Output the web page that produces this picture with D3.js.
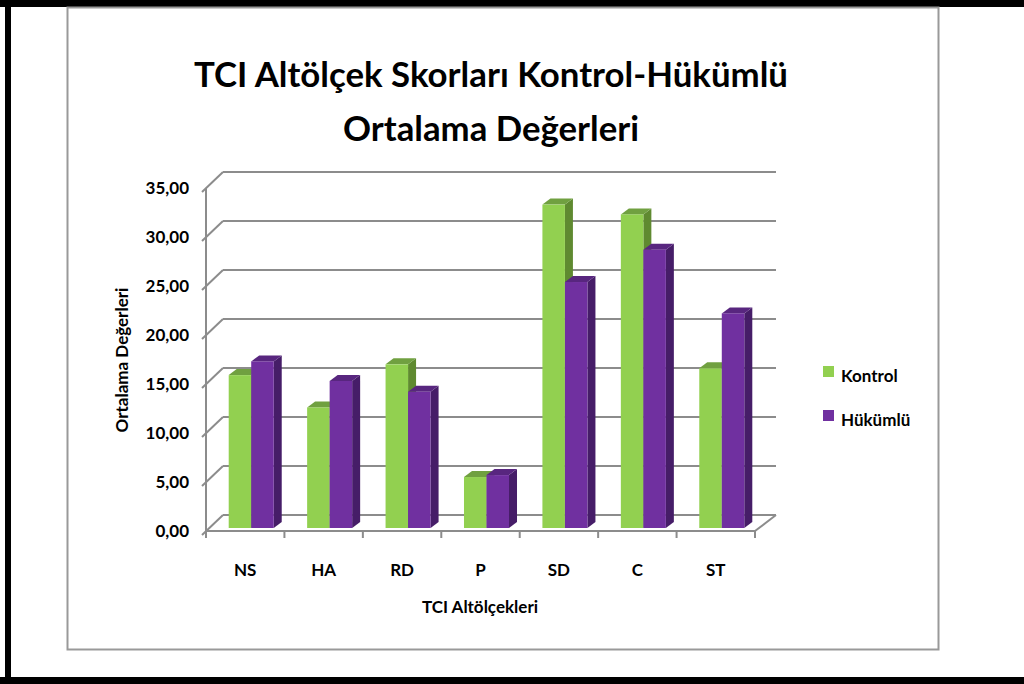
<!DOCTYPE html>
<html>
<head>
<meta charset="utf-8">
<title>TCI Altölçek Skorları</title>
<style>
  body { margin: 0; background: #fff; }
  text { font-family: Lato, "Open Sans", sans-serif; font-weight: bold; fill: #000; }
</style>
</head>
<body>
<svg width="1024" height="684"></svg>
<script src="https://d3js.org/d3.v7.min.js"></script>
<script>
// data
var categories = ["NS", "HA", "RD", "P", "SD", "C", "ST"];
var seriesNames = ["Kontrol", "Hükümlü"];
var kontrol = [15.6, 12.3, 16.7, 5.2, 33.0, 32.0, 16.3];
var hukumlu = [17.0, 15.0, 13.9, 5.4, 25.1, 28.4, 21.9];
var yTicks = [0, 5, 10, 15, 20, 25, 30, 35];

var svg = d3.select("svg");

// frames
svg.append("rect").attr("x", 0).attr("y", 0).attr("width", 1024).attr("height", 684).attr("fill", "#fff");
svg.append("rect").attr("x", 0).attr("y", 0).attr("width", 1024).attr("height", 7).attr("fill", "#000");
svg.append("rect").attr("x", 5).attr("y", 0).attr("width", 6).attr("height", 684).attr("fill", "#000");
svg.append("rect").attr("x", 0).attr("y", 677).attr("width", 1024).attr("height", 7).attr("fill", "#000");
svg.append("rect").attr("x", 67.5).attr("y", 7.5).attr("width", 871).attr("height", 642)
    .attr("fill", "none").attr("stroke", "#999").attr("stroke-width", 2);

// scales (front plane)
var x0 = d3.scaleBand().domain(categories).range([206, 755]).paddingInner(0.426).paddingOuter(0.213);
var x1 = d3.scaleBand().domain(seriesNames).range([0, x0.bandwidth()]);
var y = d3.scaleLinear().domain([0, 35]).range([531, 188]);

var wallDx = 17, wallDy = -16;   // depth of the box
var barDx = 6, barDy = -3;       // bar front plane offset
var topDx = 8, topDy = -6;       // bar depth
var gridColor = "#8c8c8c";

var grid = svg.append("g").attr("stroke", gridColor).attr("stroke-width", 2).attr("fill", "none");

// back wall gridlines
grid.selectAll(".gl").data(yTicks).enter().append("line")
    .attr("x1", 206 + wallDx).attr("x2", 755 + wallDx + 4)
    .attr("y1", function(d) { return y(d) + wallDy; })
    .attr("y2", function(d) { return y(d) + wallDy; });

// side wall diagonals
grid.selectAll(".dg").data(yTicks).enter().append("line")
    .attr("x1", 202).attr("x2", 206 + wallDx)
    .attr("y1", function(d) { return y(d) + 4; })
    .attr("y2", function(d) { return y(d) + wallDy; });

// vertical axis
grid.append("line").attr("x1", 206).attr("x2", 206).attr("y1", y(35)).attr("y2", y(0));

// floor front and right edges
grid.append("line").attr("x1", 206).attr("x2", 755).attr("y1", y(0)).attr("y2", y(0));
grid.append("line").attr("x1", 755).attr("x2", 755 + wallDx + 4).attr("y1", y(0)).attr("y2", y(0) + wallDy);

// category ticks
var bounds = categories.map(function(c) { return x0(c) - x0.step() * 0.213; });
bounds.push(755);
grid.selectAll(".ct").data(bounds).enter().append("line")
    .attr("x1", function(d) { return d; }).attr("x2", function(d) { return d; })
    .attr("y1", y(0)).attr("y2", y(0) + 7);

// bars
var colors = {
  "Kontrol": { front: "#92d050", side: "#5f8a30", top: "#70a040" },
  "Hükümlü": { front: "#7030a0", side: "#461d68", top: "#58267f" }
};
var rows = [];
categories.forEach(function(c, i) {
  rows.push({ cat: c, s: "Kontrol", v: kontrol[i] });
  rows.push({ cat: c, s: "Hükümlü", v: hukumlu[i] });
});

var bars = svg.append("g").selectAll("g").data(rows).enter().append("g");
bars.each(function(d) {
  var g = d3.select(this);
  var xl = x0(d.cat) + x1(d.s) + barDx;
  var xr = xl + x1.bandwidth();
  var yt = y(d.v) + barDy;
  var yb = y(0) + barDy;
  var c = colors[d.s];
  g.append("path")
      .attr("d", "M" + xr + "," + yb + "L" + (xr + topDx) + "," + (yb + topDy) + "L" + (xr + topDx) + "," + (yt + topDy) + "L" + xr + "," + yt + "Z")
      .attr("fill", c.side);
  g.append("path")
      .attr("d", "M" + xl + "," + yt + "L" + (xl + topDx) + "," + (yt + topDy) + "L" + (xr + topDx) + "," + (yt + topDy) + "L" + xr + "," + yt + "Z")
      .attr("fill", c.top);
  g.append("rect").attr("x", xl).attr("y", yt).attr("width", xr - xl).attr("height", yb - yt).attr("fill", c.front);
});

// y tick labels
svg.append("g").selectAll("text").data(yTicks).enter().append("text")
    .attr("x", 189).attr("y", function(d) { return y(d) + 6; })
    .attr("text-anchor", "end").attr("font-size", 17)
    .text(function(d) { return d3.format(".2f")(d).replace(".", ","); });

// x labels
svg.append("g").selectAll("text").data(categories).enter().append("text")
    .attr("x", function(d) { return x0(d) + x0.bandwidth() / 2; })
    .attr("y", 576).attr("text-anchor", "middle").attr("font-size", 17)
    .text(function(d) { return d; });

// axis titles
svg.append("text").attr("x", 480).attr("y", 613).attr("text-anchor", "middle").attr("font-size", 17)
    .text("TCI Altölçekleri");
svg.append("text").attr("transform", "translate(128,360) rotate(-90)").attr("text-anchor", "middle").attr("font-size", 17)
    .text("Ortalama Değerleri");

// title
svg.append("text").attr("x", 491).attr("y", 87).attr("text-anchor", "middle").attr("font-size", 35)
    .attr("textLength", 594).attr("lengthAdjust", "spacingAndGlyphs")
    .text("TCI Altölçek Skorları Kontrol-Hükümlü");
svg.append("text").attr("x", 491).attr("y", 141).attr("text-anchor", "middle").attr("font-size", 35)
    .attr("textLength", 296).attr("lengthAdjust", "spacingAndGlyphs")
    .text("Ortalama Değerleri");

// legend
var leg = svg.append("g").selectAll("g").data(seriesNames).enter().append("g")
    .attr("transform", function(d, i) { return "translate(823," + (366 + i * 44) + ")"; });
leg.append("rect").attr("width", 11).attr("height", 11)
    .attr("fill", function(d) { return colors[d].front; });
leg.append("text").attr("x", 18).attr("y", 16).attr("font-size", 17).text(function(d) { return d; });
</script>
</body>
</html>
